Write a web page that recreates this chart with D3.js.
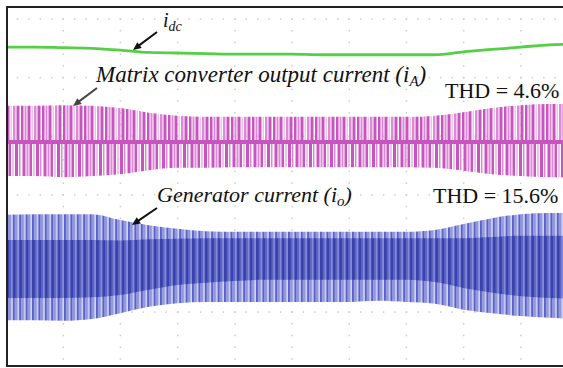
<!DOCTYPE html>
<html>
<head>
<meta charset="utf-8">
<script src="https://cdn.jsdelivr.net/npm/d3@7"></script>
<style>
  body { margin: 0; background: #fff; }
  svg { display: block; }
</style>
</head>
<body>
<div id="app"></div>
<script>
// scope screen: 10 time divisions across, values in vertical divisions (0 = screen centre)
const timeDiv = [0, 0.5, 1, 1.5, 2, 2.5, 3, 3.5, 4, 4.5, 5, 5.5, 6, 6.5, 7, 7.5, 8, 8.5, 9, 9.5, 10];

// dc-link current i_dc
const idc = [2.52, 2.52, 2.51, 2.50, 2.47, 2.43, 2.42, 2.41, 2.40, 2.40, 2.40, 2.39, 2.39, 2.39, 2.39, 2.39, 2.44, 2.48, 2.52, 2.56, 2.57];

// matrix converter output current i_A (envelope + centre level)
const iaTop    = [1.52, 1.52, 1.53, 1.52, 1.48, 1.40, 1.35, 1.33, 1.33, 1.33, 1.33, 1.33, 1.33, 1.33, 1.33, 1.35, 1.41, 1.48, 1.53, 1.55, 1.55];
const iaBottom = [0.32, 0.32, 0.30, 0.32, 0.35, 0.42, 0.46, 0.46, 0.47, 0.47, 0.47, 0.47, 0.47, 0.47, 0.47, 0.46, 0.41, 0.35, 0.32, 0.30, 0.30];
const iaCentre = 0.90;

// generator current i_o (outer envelope, dense inner band)
const ioTop         = [-0.34, -0.33, -0.33, -0.33, -0.43, -0.52, -0.58, -0.62, -0.63, -0.63, -0.63, -0.63, -0.63, -0.63, -0.63, -0.60, -0.50, -0.40, -0.33, -0.31, -0.31];
const ioBottom      = [-2.14, -2.14, -2.15, -2.12, -2.02, -1.91, -1.85, -1.83, -1.83, -1.83, -1.83, -1.83, -1.83, -1.81, -1.83, -1.86, -1.96, -2.02, -2.07, -2.10, -2.12];
const ioInnerTop    = [-0.77, -0.77, -0.77, -0.77, -0.78, -0.76, -0.75, -0.74, -0.74, -0.74, -0.74, -0.74, -0.74, -0.74, -0.74, -0.74, -0.74, -0.72, -0.70, -0.70, -0.70];
const ioInnerBottom = [-1.76, -1.76, -1.76, -1.75, -1.71, -1.62, -1.54, -1.50, -1.47, -1.45, -1.45, -1.45, -1.45, -1.45, -1.45, -1.49, -1.59, -1.67, -1.73, -1.76, -1.78];

const gridX = [1, 2, 3, 4, 5, 6, 7, 8, 9];
const gridY = [3, 2, 1, 0, -1, -2];

const width = 563, height = 368;

const x = d3.scaleLinear().domain([0, 10]).range([6, 578]);
const y = d3.scaleLinear().domain([3, -3]).range([19, 370.6]);

const svg = d3.select("#app")
    .append("svg")
    .attr("width", width)
    .attr("height", height);

svg.append("rect").attr("width", width).attr("height", height).attr("fill", "#fff");

const defs = svg.append("defs");
function stripes(id, w, bars, bg) {
    const p = defs.append("pattern")
        .attr("id", id)
        .attr("patternUnits", "userSpaceOnUse")
        .attr("width", w)
        .attr("height", height);
    if (bg) p.append("rect").attr("width", w).attr("height", height).attr("fill", bg);
    bars.forEach(b => p.append("rect")
        .attr("x", b[0]).attr("y", 0)
        .attr("width", b[1]).attr("height", height)
        .attr("fill", b[2]));
}
stripes("ioOuter", 6.4, [[0, 2.2, "#5b63c6"], [2.2, 2.6, "#9298df"]], "#d2d4f3");
stripes("ioInner", 6.4, [[0, 3.2, "#3942ac"], [3.2, 1.4, "#5860c2"], [4.6, 1.8, "#8088d8"]]);
stripes("iaUp", 21, [[0, 2.5, "#c855bf"], [3.5, 2, "#dc8ad5"], [6.5, 3, "#c855bf"], [10.5, 1.5, "#efc6eb"], [13, 2.5, "#dc8ad5"], [16.5, 3, "#c855bf"]]);
stripes("iaDown", 21, [[1.5, 3, "#c855bf"], [5.5, 2, "#dc8ad5"], [8.5, 2.5, "#c855bf"], [12, 2, "#efc6eb"], [15, 3, "#c855bf"], [19, 1.5, "#dc8ad5"]]);

// grid dots
const grid = svg.append("g").attr("fill", "#cdcdcd");
const stepY = (y(0) - y(1)) / 5, stepX = (x(1) - x(0)) / 5;
gridX.forEach(g => {
    for (let py = y(3); py < 366; py += stepY)
        grid.append("rect").attr("x", x(g) - 0.7).attr("y", py - 0.7).attr("width", 1.5).attr("height", 1.5);
});
gridY.forEach(g => {
    for (let px = x(0) + stepX; px < width; px += stepX)
        grid.append("rect").attr("x", px - 0.7).attr("y", y(g) - 0.7).attr("width", 1.5).attr("height", 1.5);
});

const idx = d3.range(timeDiv.length);
const band = (top, bot) => d3.area()
    .x(i => x(timeDiv[i]))
    .y0(i => y(top(i)))
    .y1(i => y(bot(i)))
    .curve(d3.curveMonotoneX)(idx);

// generator current
svg.append("path").attr("d", band(i => ioTop[i], i => ioBottom[i])).attr("fill", "url(#ioOuter)");
svg.append("path").attr("d", band(i => ioInnerTop[i], i => ioInnerBottom[i])).attr("fill", "url(#ioInner)");

// matrix converter output current
svg.append("path").attr("d", band(i => iaTop[i], () => iaCentre)).attr("fill", "url(#iaUp)");
svg.append("path").attr("d", band(() => iaCentre, i => iaBottom[i])).attr("fill", "url(#iaDown)");
svg.append("line")
    .attr("x1", x(0)).attr("x2", width)
    .attr("y1", y(iaCentre)).attr("y2", y(iaCentre))
    .attr("stroke", "#c855bf").attr("stroke-width", 4);

// dc current
svg.append("path")
    .datum(idx)
    .attr("d", d3.line().x(i => x(timeDiv[i])).y(i => y(idc[i])).curve(d3.curveMonotoneX))
    .attr("fill", "none")
    .attr("stroke", "#55cf45")
    .attr("stroke-width", 2.8);

// labels
const serif = "'Liberation Serif', 'Times New Roman', serif";
const lbl = svg.append("g").attr("font-family", serif).attr("fill", "#111");

const t1 = lbl.append("text").attr("x", 163).attr("y", 27).attr("font-size", 20).attr("font-style", "italic");
t1.append("tspan").text("i");
t1.append("tspan").attr("font-size", 14).attr("dy", 4).text("dc");

const t2 = lbl.append("text").attr("x", 96).attr("y", 82).attr("font-size", 23).attr("font-style", "italic");
t2.append("tspan").text("Matrix converter output current (i");
t2.append("tspan").attr("font-size", 15).attr("dy", 4).text("A");
t2.append("tspan").attr("dy", -4).text(")");

const t3 = lbl.append("text").attr("x", 157).attr("y", 202).attr("font-size", 22).attr("font-style", "italic");
t3.append("tspan").text("Generator current (i");
t3.append("tspan").attr("font-size", 15).attr("dy", 4).text("o");
t3.append("tspan").attr("dy", -4).text(")");

lbl.append("text").attr("x", 445).attr("y", 98).attr("font-size", 22).text("THD = 4.6%");
lbl.append("text").attr("x", 433).attr("y", 203).attr("font-size", 22).text("THD = 15.6%");

// arrows
function arrow(x1, y1, x2, y2, col) {
    const a = Math.atan2(y2 - y1, x2 - x1), L = 9, s = 0.42;
    svg.append("line")
        .attr("x1", x1).attr("y1", y1)
        .attr("x2", x2 - Math.cos(a) * 6).attr("y2", y2 - Math.sin(a) * 6)
        .attr("stroke", col).attr("stroke-width", 2);
    svg.append("path")
        .attr("d", `M${x2},${y2}L${x2 - L * Math.cos(a - s)},${y2 - L * Math.sin(a - s)}L${x2 - L * Math.cos(a + s)},${y2 - L * Math.sin(a + s)}Z`)
        .attr("fill", col);
}
arrow(157, 32, 133, 50, "#111");
arrow(97, 88, 73, 106, "#444");
arrow(157, 208, 132, 225, "#111");

// scope frame (cropped on the right)
svg.append("path")
    .attr("d", `M${width},7H7V366H${width}`)
    .attr("fill", "none")
    .attr("stroke", "#222")
    .attr("stroke-width", 2);
</script>
</body>
</html>
